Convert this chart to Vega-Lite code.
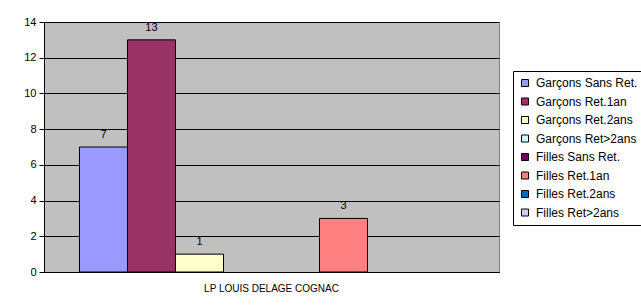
{
  "$schema": "https://vega.github.io/schema/vega-lite/v6.json",
  "autosize": {"type": "none"},
  "width": 455,
  "height": 250,
  "padding": {"left": 44, "top": 22, "right": 142, "bottom": 34},
  "background": "white",
  "config": {
    "font": "Liberation Sans",
    "view": {"fill": "#C0C0C0", "stroke": "#808080", "strokeWidth": 1}
  },
  "data": {
    "values": [
      {"etab": "LP LOUIS DELAGE COGNAC", "serie": "Garçons Sans Ret.", "valeur": 7},
      {"etab": "LP LOUIS DELAGE COGNAC", "serie": "Garçons Ret.1an", "valeur": 13},
      {"etab": "LP LOUIS DELAGE COGNAC", "serie": "Garçons Ret.2ans", "valeur": 1},
      {"etab": "LP LOUIS DELAGE COGNAC", "serie": "Garçons Ret>2ans", "valeur": 0},
      {"etab": "LP LOUIS DELAGE COGNAC", "serie": "Filles Sans Ret.", "valeur": 0},
      {"etab": "LP LOUIS DELAGE COGNAC", "serie": "Filles Ret.1an", "valeur": 3},
      {"etab": "LP LOUIS DELAGE COGNAC", "serie": "Filles Ret.2ans", "valeur": 0},
      {"etab": "LP LOUIS DELAGE COGNAC", "serie": "Filles Ret>2ans", "valeur": 0}
    ]
  },
  "transform": [{"filter": "datum.valeur > 0"}],
  "encoding": {
    "x": {
      "field": "etab", "type": "nominal",
      "scale": {"paddingInner": 0, "paddingOuter": 0.0924},
      "axis": {"title": null, "labelAngle": 0, "labelFontSize": 10, "labelColor": "black", "labelPadding": 11, "ticks": false, "domainColor": "black", "domainWidth": 1}
    },
    "xOffset": {
      "field": "serie", "type": "nominal",
      "scale": {"domain": ["Garçons Sans Ret.", "Garçons Ret.1an", "Garçons Ret.2ans", "Garçons Ret>2ans", "Filles Sans Ret.", "Filles Ret.1an", "Filles Ret.2ans", "Filles Ret>2ans"], "paddingInner": 0, "paddingOuter": 0}
    },
    "y": {
      "field": "valeur", "type": "quantitative",
      "scale": {"domain": [0, 14], "nice": false},
      "axis": {"title": null, "values": [0, 2, 4, 6, 8, 10, 12, 14], "labelFontSize": 11, "labelColor": "black", "labelPadding": 3, "tickSize": 5, "tickColor": "black", "domainColor": "black", "gridColor": "black", "gridOpacity": 1, "gridWidth": 1}
    }
  },
  "layer": [
    {
      "mark": {"type": "bar", "stroke": "black", "strokeWidth": 1, "opacity": 1},
      "encoding": {
        "color": {
          "field": "serie", "type": "nominal",
          "scale": {
            "domain": ["Garçons Sans Ret.", "Garçons Ret.1an", "Garçons Ret.2ans", "Garçons Ret>2ans", "Filles Sans Ret.", "Filles Ret.1an", "Filles Ret.2ans", "Filles Ret>2ans"],
            "range": ["#9999FF", "#993366", "#FFFFCC", "#CCFFFF", "#660066", "#FF8080", "#0066CC", "#CCCCFF"]
          },
          "legend": {
            "title": null,
            "orient": "none",
            "legendX": 469,
            "legendY": 49,
            "strokeColor": "black",
            "fillColor": "white",
            "padding": 6,
            "labelFontSize": 12,
            "labelColor": "black",
            "labelOffset": 5,
            "symbolType": "square",
            "symbolSize": 49,
            "symbolStrokeColor": "black",
            "symbolStrokeWidth": 1,
            "symbolOpacity": 1,
            "rowPadding": 6.5,
            "labelLimit": 200
          }
        }
      }
    },
    {
      "mark": {"type": "text", "dy": -12, "fontSize": 11, "color": "black"},
      "encoding": {"text": {"field": "valeur", "type": "quantitative"}}
    }
  ]
}
